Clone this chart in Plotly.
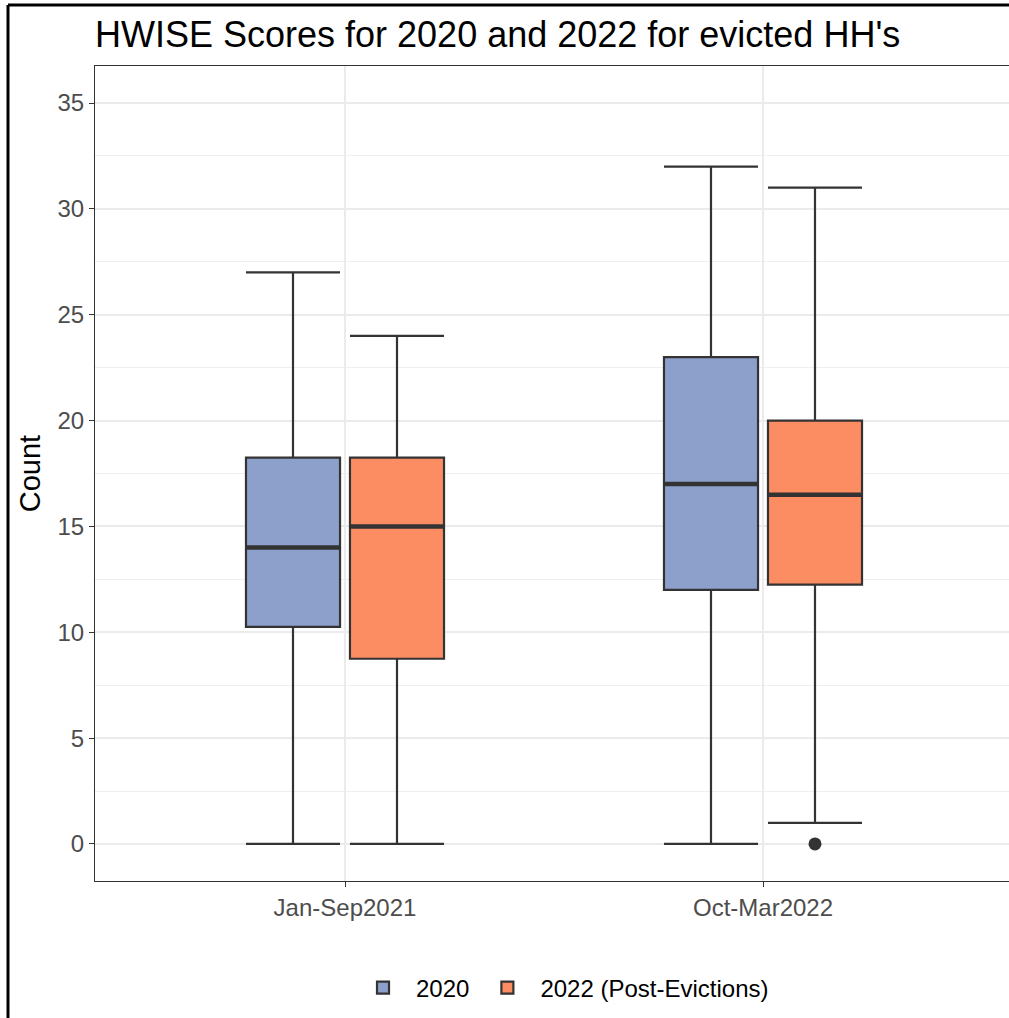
import plotly.graph_objects as go

# ---- data ----
categories = ["Jan-Sep2021", "Oct-Mar2022"]
series_names = ["2020", "2022 (Post-Evictions)"]
series_colors = ["#8DA0CB", "#FC8D62"]

lower_2020 = [0, 0]
q1_2020 = [10.25, 12]
median_2020 = [14, 17]
q3_2020 = [18.25, 23]
upper_2020 = [27, 32]

lower_2022 = [0, 1]
q1_2022 = [8.75, 12.25]
median_2022 = [15, 16.5]
q3_2022 = [18.25, 20]
upper_2022 = [24, 31]

outliers_2022_cat = ["Oct-Mar2022"]
outliers_2022_val = [0]

y_ticks = [0, 5, 10, 15, 20, 25, 30, 35]

# ---- layout params ----
W, H = 1009, 1018
ML, MR, MT, MB = 95, 0, 66, 137
dodge = 0.1244
box_w = 0.225
line_col = "#333333"

stats = [
    (lower_2020, q1_2020, median_2020, q3_2020, upper_2020),
    (lower_2022, q1_2022, median_2022, q3_2022, upper_2022),
]
cat_pos = {c: i + 1 for i, c in enumerate(categories)}

fig = go.Figure()
for si, (name, col, st) in enumerate(zip(series_names, series_colors, stats)):
    off = -dodge if si == 0 else dodge
    xs = [cat_pos[c] + off for c in categories]
    lo, q1, md, q3, up = st
    fig.add_trace(go.Box(
        x=xs, lowerfence=lo, q1=q1, median=md, q3=q3, upperfence=up,
        name=name, fillcolor=col, width=box_w, whiskerwidth=1,
        line=dict(color=line_col, width=2.2), boxpoints=False,
        legendgroup=name, showlegend=True, hoverinfo="skip",
    ))
    # thicker median lines (as in ggplot)
    for x, m in zip(xs, md):
        fig.add_trace(go.Scatter(
            x=[x - box_w / 2, x + box_w / 2], y=[m, m], mode="lines",
            line=dict(color=line_col, width=4.5), showlegend=False,
            hoverinfo="skip", legendgroup=name,
        ))

fig.add_trace(go.Scatter(
    x=[cat_pos[c] + dodge for c in outliers_2022_cat], y=outliers_2022_val,
    mode="markers", marker=dict(color=line_col, size=13),
    showlegend=False, hoverinfo="skip",
))

pw = W - ML - MR
ph = H - MT - MB
x0 = 1 - (345 - ML) / 418
x1 = 2 + (W - MR - 763) / 418

font = "Liberation Sans, Arial, Helvetica, sans-serif"
fig.update_layout(
    width=W, height=H,
    margin=dict(l=ML, r=MR, t=MT, b=MB),
    paper_bgcolor="white", plot_bgcolor="white",
    font=dict(family=font, color="black"),
    title=dict(text="HWISE Scores for 2020 and 2022 for evicted HH's",
               x=ML / W, xanchor="left", y=1 - 34 / H, yanchor="middle",
               font=dict(size=36, color="black")),
    xaxis=dict(range=[x0, x1], tickvals=[1, 2], ticktext=categories,
               showgrid=True, gridcolor="#EBEBEB", gridwidth=2,
               zeroline=False, showline=True, mirror=True,
               linecolor=line_col, linewidth=1,
               ticks="outside", ticklen=5, tickcolor=line_col,
               tickfont=dict(size=24, color="#4D4D4D")),
    yaxis=dict(range=[-1.75, 36.75], tickvals=y_ticks,
               showgrid=True, gridcolor="#EBEBEB", gridwidth=2,
               minor=dict(dtick=2.5, tick0=0, showgrid=True,
                          gridcolor="#EFEFEF", gridwidth=1),
               zeroline=False, showline=True, mirror=False,
               linecolor=line_col, linewidth=1,
               ticks="outside", ticklen=5, tickcolor=line_col,
               tickfont=dict(size=24, color="#4D4D4D"),
               title=dict(text="Count", font=dict(size=29, color="black"),
                          standoff=8)),
    legend=dict(orientation="h", x=(562 - ML) / pw, xanchor="center",
                y=(ph - (988 - MT)) / ph, yanchor="middle",
                font=dict(size=24, color="black"), itemwidth=56,
                bgcolor="rgba(0,0,0,0)"),
    showlegend=True,
)

# outer black frame (cropped at right/bottom)
fx = (8 - ML) / pw
fy = (ph - (5 - MT)) / ph
fig.add_shape(type="line", xref="paper", yref="paper", x0=fx, x1=fx,
              y0=-0.3, y1=fy, line=dict(color="black", width=3))
fig.add_shape(type="line", xref="paper", yref="paper", x0=fx, x1=1.1,
              y0=fy, y1=fy, line=dict(color="black", width=3))

fig.write_html(
    "out.html",
    config={"displayModeBar": False},
    post_script="document.body.style.margin='0';document.body.style.overflow='hidden';",
)
